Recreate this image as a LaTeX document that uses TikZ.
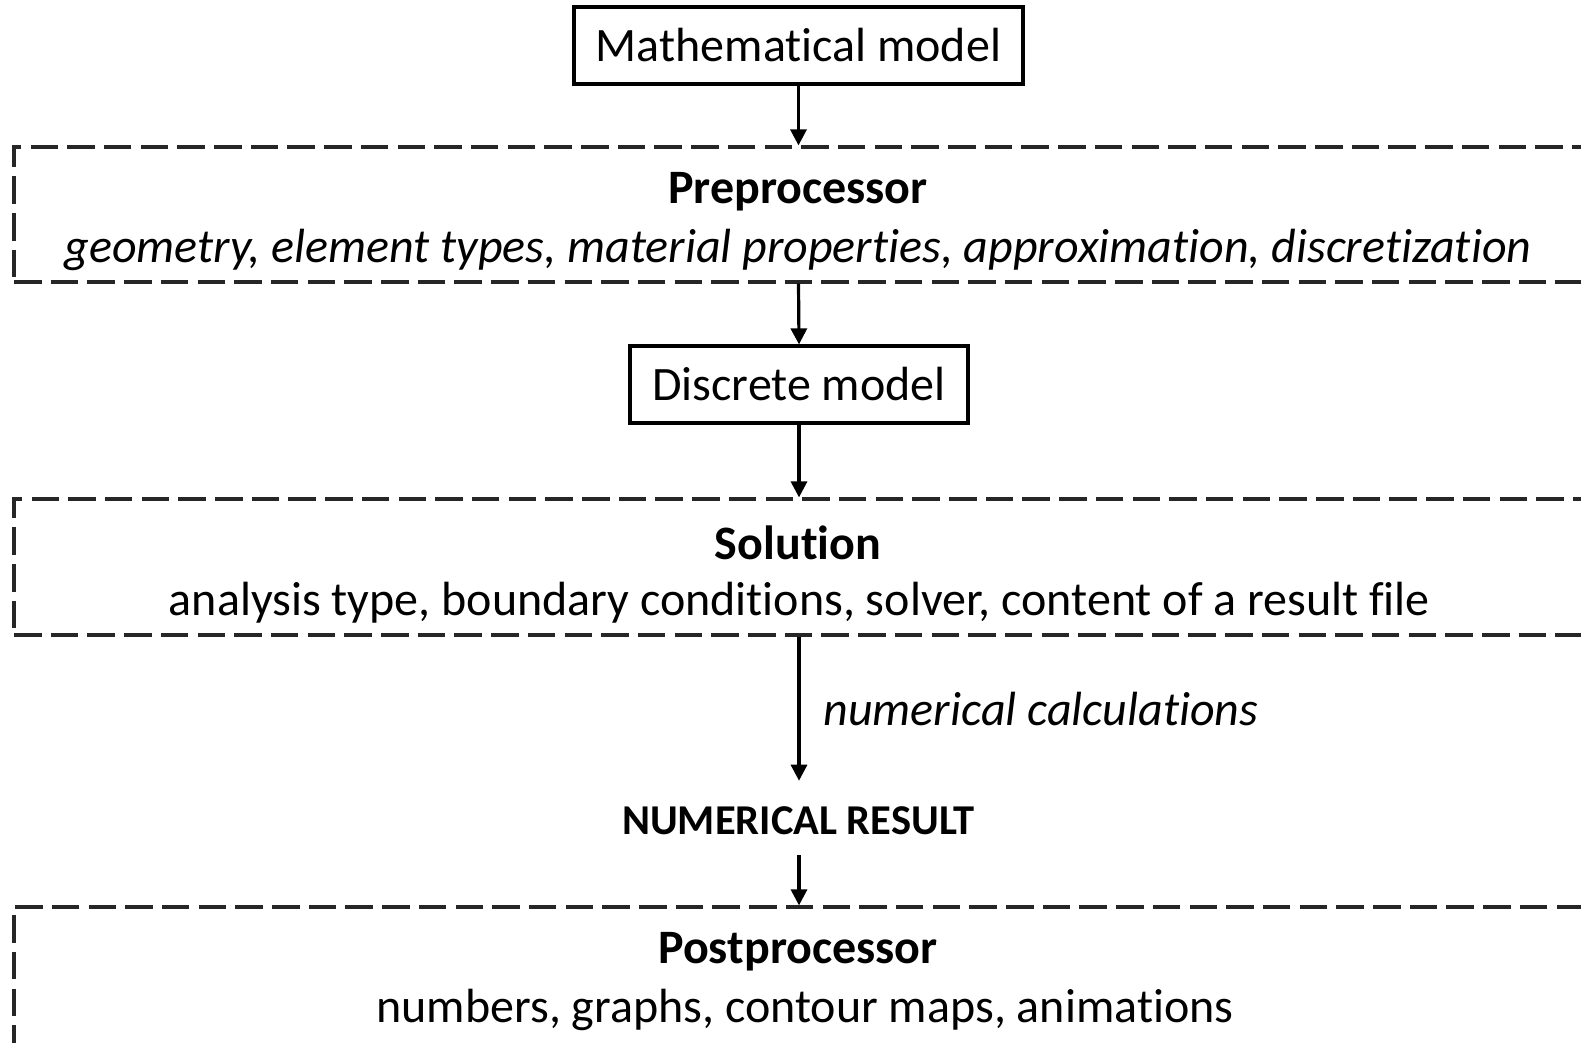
\documentclass[tikz,border=0pt]{standalone}
\usepackage{fontspec}
\setmainfont[Ligatures=NoCommon]{Carlito}
\usetikzlibrary{arrows.meta}
\begin{document}
\begin{tikzpicture}[x=1pt,y=-1pt,
  txt/.style={font=\fontsize{48}{58}\selectfont, inner sep=0pt},
  solidbox/.style={draw=black, line width=3.2pt, font=\fontsize{48}{58}\selectfont, inner sep=0pt},
  dashbox/.style={draw=black!85, line width=3.2pt, dash pattern=on 27.5pt off 9.2pt, inner sep=0pt},
  arr/.style={line width=3.2pt, -{Triangle[length=16pt,width=16pt]}}
]
\useasboundingbox (0,0) rectangle (1581,1043);
\clip (0,0) rectangle (1581,1043);
% boxes
\node[solidbox, minimum width=449pt, minimum height=77pt] (math) at (798.5,45.5) {Mathematical model};
\node[dashbox, minimum width=1606pt, minimum height=135pt] (pre) at (817,214.5) {};
\node[solidbox, minimum width=338pt, minimum height=77pt] (disc) at (799,384.5) {Discrete model};
\node[dashbox, minimum width=1606pt, minimum height=136pt] (sol) at (817,567) {};
\node[dashbox, minimum width=1606pt, minimum height=193pt] (post) at (817,1003.5) {};
% texts
\node[txt, font=\fontsize{48}{58}\selectfont\bfseries] (pretitle) at (798,192) {Preprocessor};
\node[txt, font=\fontsize{48}{58}\selectfont\itshape] (prebody) at (798,250) {geometry, element types, material properties, approximation, discretization};
\node[txt, font=\fontsize{48}{58}\selectfont\bfseries] (soltitle) at (798,543) {Solution};
\node[txt] (solbody) at (799.5,603) {analysis type, boundary conditions, solver, content of a result file};
\node[txt, font=\fontsize{42.5}{50}\selectfont\bfseries] (numres) at (798.5,821) {NUMERICAL RESULT};
\node[txt, font=\fontsize{48}{58}\selectfont\bfseries] (posttitle) at (798,952) {Postprocessor};
\node[txt] (postbody) at (805,1010) {numbers, graphs, contour maps, animations};
% connectors
\draw[arr] (math.south) -- (math.south |- pre.north);
\draw[arr] (math.south |- pre.south) -- (disc.north);
\draw[arr] (disc.south) -- (disc.south |- sol.north);
\coordinate (restop) at ([yshift=26pt]numres.north);
\draw[arr] (disc.south |- sol.south) -- (disc.south |- restop) node[midway, right=23pt, txt, font=\fontsize{48}{58}\selectfont\itshape] (calc) {numerical calculations};
\coordinate (resbot) at ([yshift=-20pt]numres.south);
\draw[arr] (disc.south |- resbot) -- (disc.south |- post.north);
\end{tikzpicture}
\end{document}
